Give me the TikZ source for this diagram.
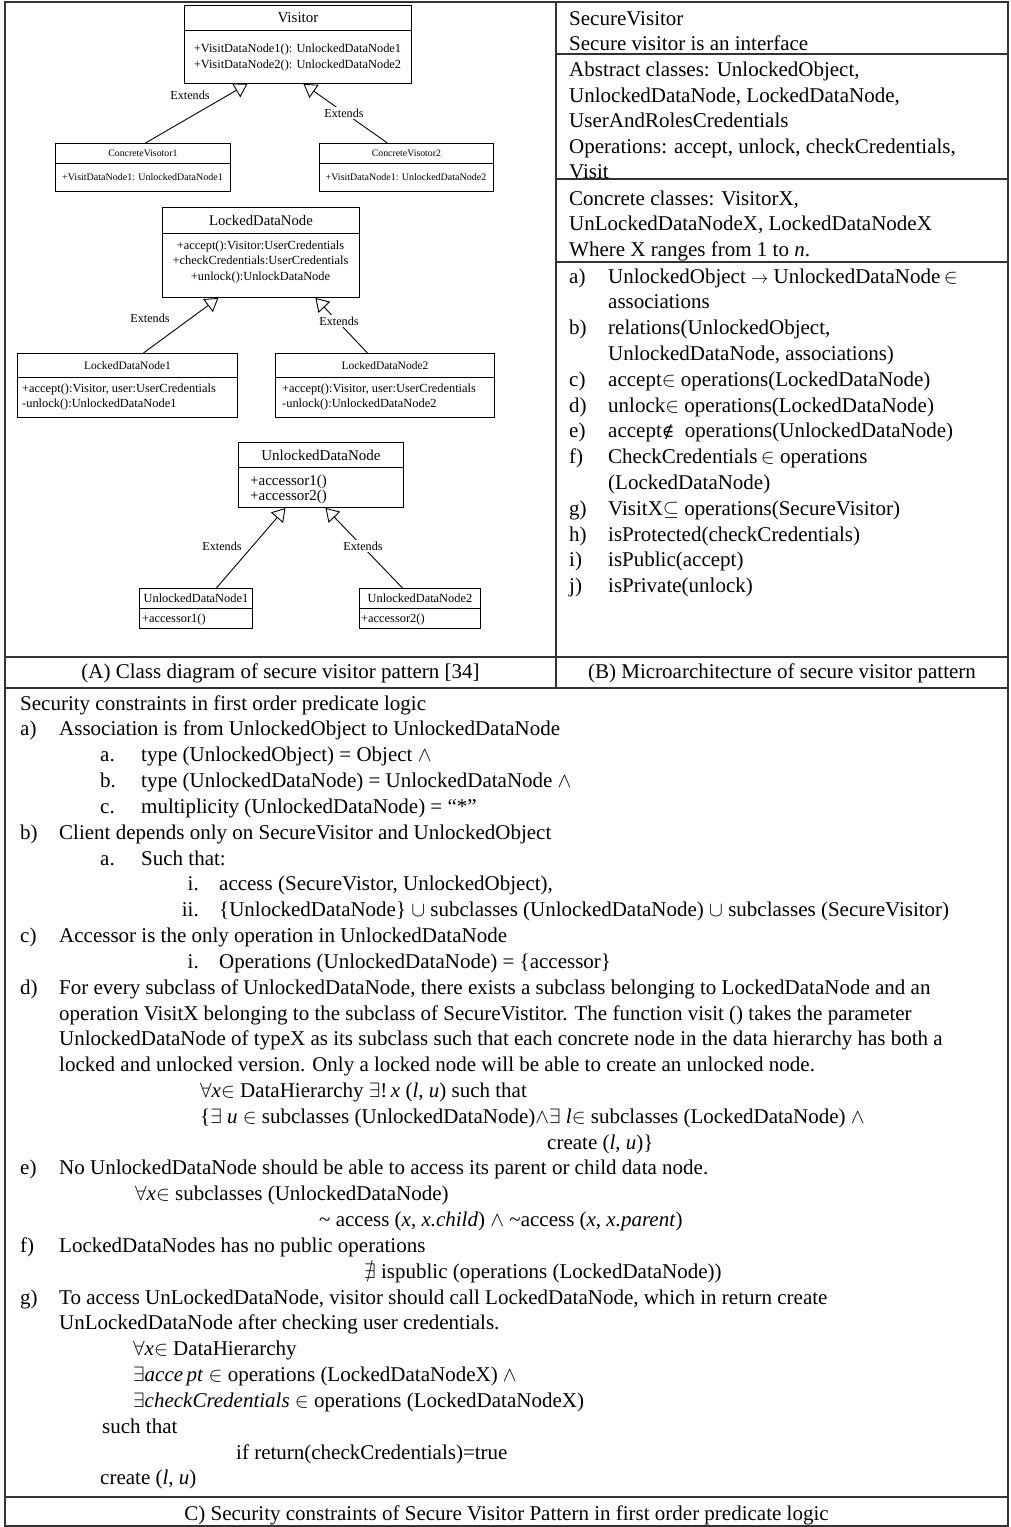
\documentclass[tikz,border=0pt]{standalone}
\usepackage{fontspec}
\setmainfont{Liberation Serif}
\newfontfamily\symfont{DejaVu Serif}
\usepackage{amssymb}
\usetikzlibrary{arrows.meta}

% one line of body text, placed by its baseline
\newcommand\TL[4]{\node[tx] (#1) at (#2,#3) {#4};}
\newcommand\TR[4]{\node[txr] (#1) at (#2,#3) {#4};}
\newcommand\sarrow{{\fontsize{18}{18}\selectfont$\rightarrow$}}
\newcommand\notelem{{\symfont\fontsize{17}{17}\selectfont ∉}}

\begin{document}
\begin{tikzpicture}[x=1pt,y=-1pt,
  frame/.style={line width=1.3pt, draw=black!80},
  box/.style={draw, line width=0.9pt, inner sep=0pt, anchor=north west},
  ext/.style={line width=0.9pt, -{Triangle[open, length=13pt, width=16pt]}},
  lbl/.style={font=\fontsize{12.2}{14}\selectfont, inner sep=1.5pt},
  onln/.style={lbl, fill=white},
  tx/.style={anchor=base west, inner sep=0pt, font=\fontsize{21}{25}\selectfont},
  txr/.style={anchor=base east, inner sep=0pt, font=\fontsize{21}{25}\selectfont},
  captxt/.style={anchor=base, inner sep=0pt, font=\fontsize{21}{25}\selectfont},
  op/.style={inner sep=0pt},
  opc/.style={op, anchor=base},
  opl/.style={op, anchor=base west}]
\useasboundingbox (0,0) rectangle (1010,1527);

% ---------- frame of the table ----------
\draw[frame] (5,2) rectangle (1008,1526);
\draw[frame] (556,2) -- (556,688);
\draw[frame] (556,54) -- (1008,54);
\draw[frame] (556,179) -- (1008,179);
\draw[frame] (556,262) -- (1008,262);
\draw[frame] (5,657) -- (1008,657);
\draw[frame] (5,688) -- (1008,688);
\draw[frame] (5,1497) -- (1008,1497);

% ---------- (A) class diagram ----------
% Visitor
\node[box, minimum width=227pt, minimum height=25pt, font=\fontsize{15}{17}\selectfont] (vist) at (184,5) {Visitor};
\node[box, minimum width=227pt, minimum height=53pt] (visb) at (184,30) {};
\node[opc, font=\fontsize{12.4}{15}\selectfont] (vis1) at (297.5,52) {+VisitDataNode1(): UnlockedDataNode1};
\node[opc, font=\fontsize{12.4}{15}\selectfont] (vis2) at (297.5,68) {+VisitDataNode2(): UnlockedDataNode2};

% ConcreteVisotor1 / 2
\node[box, minimum width=175pt, minimum height=20pt, font=\fontsize{9.8}{11}\selectfont] (cv1t) at (55,143) {ConcreteVisotor1};
\node[box, minimum width=175pt, minimum height=28pt] (cv1b) at (55,163) {};
\node[opc, font=\fontsize{10}{12}\selectfont] (cv1o) at (142.5,180.5) {+VisitDataNode1: UnlockedDataNode1};
\node[box, minimum width=174pt, minimum height=20pt, font=\fontsize{9.8}{11}\selectfont] (cv2t) at (319,143) {ConcreteVisotor2};
\node[box, minimum width=174pt, minimum height=28pt] (cv2b) at (319,163) {};
\node[opc, font=\fontsize{10}{12}\selectfont] (cv2o) at (406,180.5) {+VisitDataNode1: UnlockedDataNode2};

% LockedDataNode
\node[box, minimum width=197pt, minimum height=26pt, font=\fontsize{14.7}{17}\selectfont] (ldnt) at (162,207) {LockedDataNode};
\node[box, minimum width=197pt, minimum height=64pt] (ldnb) at (162,233) {};
\node[opc, font=\fontsize{12.4}{15}\selectfont] (ldn1o) at (260.5,249) {+accept():Visitor:UserCredentials};
\node[opc, font=\fontsize{12.4}{15}\selectfont] (ldn2o) at (260.5,264.5) {+checkCredentials:UserCredentials};
\node[opc, font=\fontsize{12.4}{15}\selectfont] (ldn3o) at (260.5,280) {+unlock():UnlockDataNode};

% LockedDataNode1 / 2
\node[box, minimum width=220pt, minimum height=24pt, font=\fontsize{11.5}{13}\selectfont] (la1t) at (17,353) {LockedDataNode1};
\node[box, minimum width=220pt, minimum height=40pt] (la1b) at (17,377) {};
\node[opl, font=\fontsize{12.4}{15}\selectfont] (la1o1) at (22,392) {+accept():Visitor, user:UserCredentials};
\node[opl, font=\fontsize{12.4}{15}\selectfont] (la1o2) at (22,407) {-unlock():UnlockedDataNode1};
\node[box, minimum width=219pt, minimum height=24pt, font=\fontsize{11.5}{13}\selectfont] (la2t) at (275,353) {LockedDataNode2};
\node[box, minimum width=219pt, minimum height=40pt] (la2b) at (275,377) {};
\node[opl, font=\fontsize{12.4}{15}\selectfont] (la2o1) at (282,392) {+accept():Visitor, user:UserCredentials};
\node[opl, font=\fontsize{12.4}{15}\selectfont] (la2o2) at (282,407) {-unlock():UnlockedDataNode2};

% UnlockedDataNode
\node[box, minimum width=165pt, minimum height=25pt, font=\fontsize{15}{17}\selectfont] (udnt) at (238,442) {UnlockedDataNode};
\node[box, minimum width=165pt, minimum height=40pt] (udnb) at (238,467) {};
\node[opl, font=\fontsize{15}{17}\selectfont] (udno1) at (250,485.5) {+accessor1()};
\node[opl, font=\fontsize{15}{17}\selectfont] (udno2) at (250,500.5) {+accessor2()};

% UnlockedDataNode1 / 2
\node[box, minimum width=113pt, minimum height=20pt, font=\fontsize{12.4}{14}\selectfont] (ua1t) at (139,588) {UnlockedDataNode1};
\node[box, minimum width=113pt, minimum height=20pt] (ua1b) at (139,608) {};
\node[opl, font=\fontsize{12.4}{14}\selectfont] (ua1o) at (142,622) {+accessor1()};
\node[box, minimum width=121pt, minimum height=20pt, font=\fontsize{12.4}{14}\selectfont] (ua2t) at (359,588) {UnlockedDataNode2};
\node[box, minimum width=121pt, minimum height=20pt] (ua2b) at (359,608) {};
\node[opl, font=\fontsize{12.4}{14}\selectfont] (ua2o) at (361,622) {+accessor2()};

% generalisation connectors
\draw[ext] ([xshift=2.5pt]cv1t.north) -- ([xshift=-50.5pt]visb.south);
\draw[ext] ([xshift=-19pt]cv2t.north) -- ([xshift=5.5pt]visb.south);
\draw[ext] ([xshift=16pt]la1t.north) -- ([xshift=-42.5pt]ldnb.south);
\draw[ext] ([xshift=-17.5pt]la2t.north) -- ([xshift=54.5pt]ldnb.south);
\draw[ext] ([xshift=20.5pt]ua1t.north) -- ([xshift=-35.5pt]udnb.south);
\draw[ext] ([xshift=-17.5pt]ua2t.north) -- ([xshift=4.5pt]udnb.south);

\node[lbl]  (x1) at (190,95)  {Extends};
\node[onln] (x2) at (344,113) {Extends};
\node[lbl]  (x3) at (150,318) {Extends};
\node[onln] (x4) at (339,321) {Extends};
\node[lbl]  (x5) at (222,546) {Extends};
\node[onln] (x6) at (363,546) {Extends};

% ---------- (B) micro-architecture ----------
\TL{b0}{569}{25}{SecureVisitor}
\TL{b1}{569}{50.5}{Secure visitor is an interface}
\TL{b2}{569}{76.5}{Abstract classes: UnlockedObject,}
\TL{b3}{569}{102}{UnlockedDataNode, LockedDataNode,}
\TL{b4}{569}{127.5}{UserAndRolesCredentials}
\TL{b5}{569}{153}{Operations: accept, unlock, checkCredentials,}
\TL{b6}{569}{178}{Visit}
\TL{b7}{569}{205}{Concrete classes: VisitorX,}
\TL{b8}{569}{230.5}{UnLockedDataNodeX, LockedDataNodeX}
\TL{b9}{569}{256}{Where X ranges from 1 to \textit{n}.}
\TL{bla}{569}{283}{a)}
\TL{bta}{608}{283}{UnlockedObject \sarrow{} UnlockedDataNode\,$\in$}
\TL{bta2}{608}{308.8}{associations}
\TL{blb}{569}{334.6}{b)}
\TL{btb}{608}{334.6}{relations(UnlockedObject,}
\TL{btb2}{608}{360.4}{UnlockedDataNode, associations)}
\TL{blc}{569}{386.2}{c)}
\TL{btc}{608}{386.2}{accept$\in$ operations(LockedDataNode)}
\TL{bld}{569}{412}{d)}
\TL{btd}{608}{412}{unlock$\in$ operations(LockedDataNode)}
\TL{ble}{569}{437.8}{e)}
\TL{bte}{608}{437.8}{accept\notelem\ \ operations(UnlockedDataNode)}
\TL{blf}{569}{463.6}{f)}
\TL{btf}{608}{463.6}{CheckCredentials\,$\in$ operations}
\TL{btf2}{608}{489.4}{(LockedDataNode)}
\TL{blg}{569}{515.2}{g)}
\TL{btg}{608}{515.2}{VisitX$\subseteq$ operations(SecureVisitor)}
\TL{blh}{569}{541}{h)}
\TL{bth}{608}{541}{isProtected(checkCredentials)}
\TL{bli}{569}{566.8}{i)}
\TL{bti}{608}{566.8}{isPublic(accept)}
\TL{blj}{569}{592.6}{j)}
\TL{btj}{608}{592.6}{isPrivate(unlock)}

% ---------- captions of (A) and (B) ----------
\node[captxt] (capa) at (280.5,678) {(A) Class diagram of secure visitor pattern [34]};
\node[captxt] (capb) at (782,678) {(B) Microarchitecture of secure visitor pattern};

% ---------- (C) security constraints ----------
\TL{c0}{20}{710}{Security constraints in first order predicate logic}
\TL{cla}{20}{735.8}{a)}
\TL{cta}{59}{735.8}{Association is from UnlockedObject to UnlockedDataNode}
\TL{claa}{100}{761.7}{a.}
\TL{ctaa}{141}{761.7}{type (UnlockedObject) = Object $\wedge$}
\TL{clab}{100}{787.5}{b.}
\TL{ctab}{141}{787.5}{type (UnlockedDataNode) = UnlockedDataNode $\wedge$}
\TL{clac}{100}{813.3}{c.}
\TL{ctac}{141}{813.3}{multiplicity (UnlockedDataNode) = “*”}
\TL{clb}{20}{839.2}{b)}
\TL{ctb}{59}{839.2}{Client depends only on SecureVisitor and UnlockedObject}
\TL{clba}{100}{865}{a.}
\TL{ctba}{141}{865}{Such that:}
\TR{clbi}{199}{890.8}{i.}
\TL{ctbi}{219}{890.8}{access (SecureVistor, UnlockedObject),}
\TR{clbii}{199}{916.6}{ii.}
\TL{ctbii}{219}{916.6}{\{UnlockedDataNode\} $\cup$ subclasses (UnlockedDataNode) $\cup$ subclasses (SecureVisitor)}
\TL{clc}{20}{942.5}{c)}
\TL{ctc}{59}{942.5}{Accessor is the only operation in UnlockedDataNode}
\TR{clci}{199}{968.3}{i.}
\TL{ctci}{219}{968.3}{Operations (UnlockedDataNode) = \{accessor\}}
\TL{cld}{20}{994.1}{d)}
\TL{ctd1}{59}{994.1}{For every subclass of UnlockedDataNode, there exists a subclass belonging to LockedDataNode and an}
\TL{ctd2}{59}{1020}{operation VisitX belonging to the subclass of SecureVistitor. The function visit () takes the parameter}
\TL{ctd3}{59}{1045.8}{UnlockedDataNode of typeX as its subclass such that each concrete node in the data hierarchy has both a}
\TL{ctd4}{59}{1071.6}{locked and unlocked version. Only a locked node will be able to create an unlocked node.}
\TL{ctd5}{200}{1097.5}{$\forall$\textit{x}$\in$ DataHierarchy $\exists$!\,\textit{x} (\textit{l}, \textit{u}) such that}
\TL{ctd6}{200}{1123.3}{\{$\exists$ \textit{u} $\in$ subclasses (UnlockedDataNode)$\wedge\exists$ \textit{l}$\in$ subclasses (LockedDataNode) $\wedge$}
\TL{ctd7}{547}{1149.1}{create (\textit{l}, \textit{u})\}}
\TL{cle}{20}{1174.9}{e)}
\TL{cte}{59}{1174.9}{No UnlockedDataNode should be able to access its parent or child data node.}
\TL{cte2}{135}{1200.8}{$\forall$\textit{x}$\in$ subclasses (UnlockedDataNode)}
\TL{cte3}{319}{1226.6}{\textasciitilde{} access (\textit{x}, \textit{x.child}) $\wedge$ \textasciitilde access (\textit{x}, \textit{x.parent})}
\TL{clf}{20}{1252.4}{f)}
\TL{ctf}{59}{1252.4}{LockedDataNodes has no public operations}
\TL{ctf2}{364}{1278.3}{$\nexists$ ispublic (operations (LockedDataNode))}
\TL{clg}{20}{1304.1}{g)}
\TL{ctg1}{59}{1304.1}{To access UnLockedDataNode, visitor should call LockedDataNode, which in return create}
\TL{ctg2}{59}{1329.9}{UnLockedDataNode after checking user credentials.}
\TL{ctg3}{133}{1355.8}{$\forall$\textit{x}$\in$ DataHierarchy}
\TL{ctg4}{133}{1381.6}{$\exists$\textit{acce\,pt} $\in$ operations (LockedDataNodeX) $\wedge$}
\TL{ctg5}{133}{1407.4}{$\exists$\textit{checkCredentials} $\in$ operations (LockedDataNodeX)}
\TL{ctg6}{102}{1433.2}{such that}
\TL{ctg7}{236}{1459.1}{if return(checkCredentials)=true}
\TL{ctg8}{100}{1484.9}{create (\textit{l}, \textit{u})}

\node[captxt] (capc) at (506.5,1520) {C) Security constraints of Secure Visitor Pattern in first order predicate logic};
\end{tikzpicture}
\end{document}
